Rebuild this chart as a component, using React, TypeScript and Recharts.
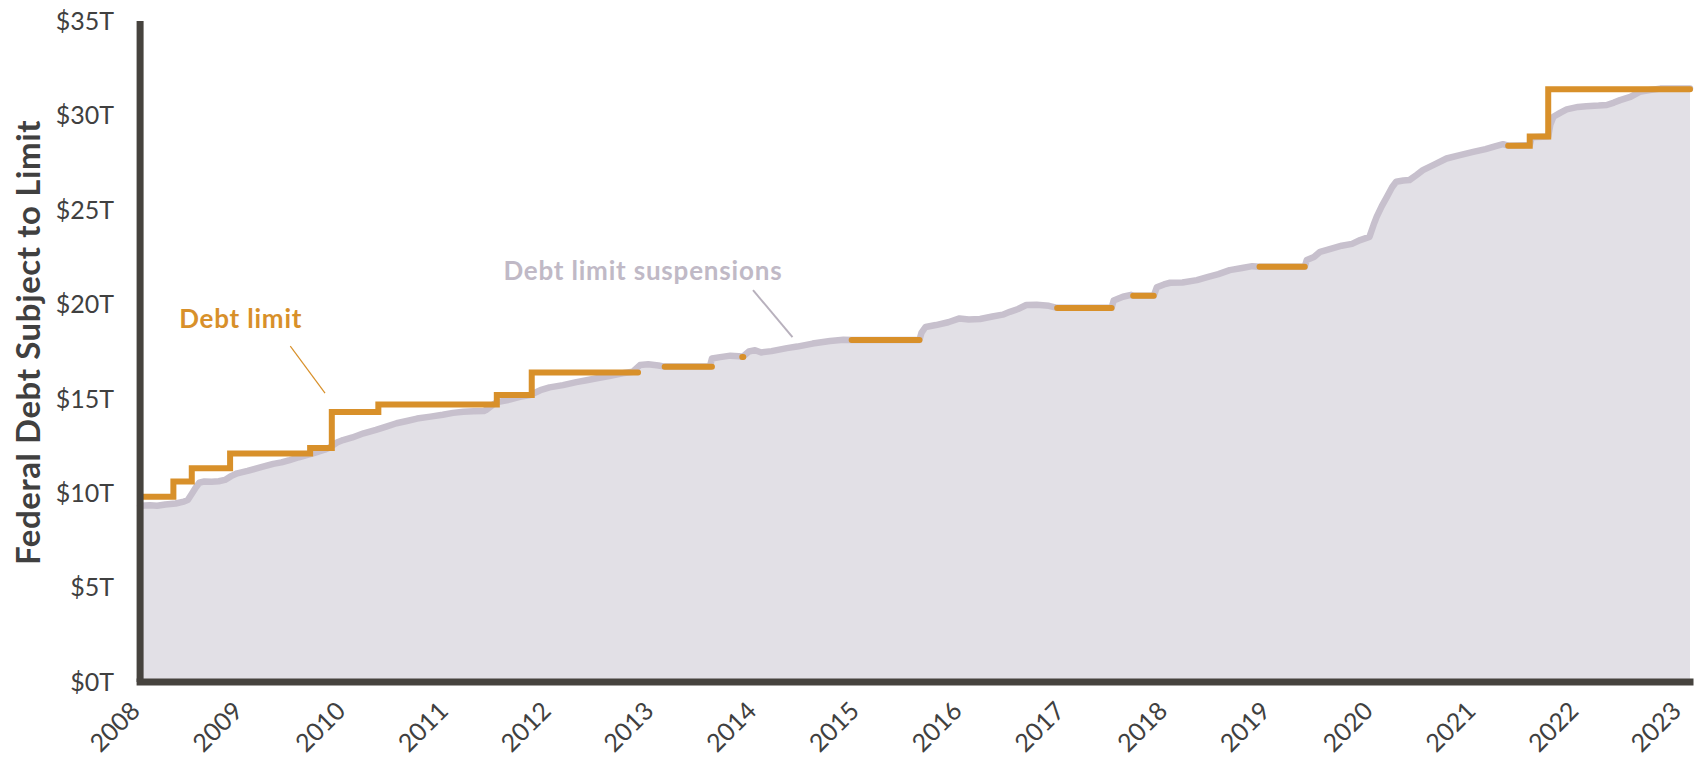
import { ComposedChart, Area, Line, XAxis, YAxis, ReferenceLine, ReferenceDot, Label } from 'recharts';

// debt subject to limit, trillions of dollars
const debtYears = [
  2008.254, 2008.35, 2008.42, 2008.5, 2008.6, 2008.68, 2008.72, 2008.75, 2008.79, 2008.83, 2008.88, 2008.95,
  2009.02, 2009.08, 2009.14, 2009.2, 2009.3, 2009.38, 2009.45, 2009.55, 2009.63, 2009.71, 2009.8, 2009.9, 2009.96,
  2010.05, 2010.1, 2010.17, 2010.23, 2010.32, 2010.43, 2010.55, 2010.65, 2010.75, 2010.85, 2010.95,
  2011.08, 2011.2, 2011.3, 2011.4, 2011.5, 2011.6, 2011.62, 2011.68, 2011.73, 2011.85, 2011.95,
  2012.05, 2012.15, 2012.24, 2012.37, 2012.5, 2012.6, 2012.7, 2012.82, 2012.95,
  2013.05, 2013.12, 2013.2, 2013.3, 2013.36, 2013.8, 2013.82, 2013.9,
  2014.0, 2014.08, 2014.12, 2014.18, 2014.24, 2014.3, 2014.4, 2014.55, 2014.65, 2014.8, 2014.97,
  2015.1, 2015.18, 2015.84, 2015.86, 2015.9, 2016.0, 2016.12, 2016.23, 2016.32, 2016.43, 2016.55, 2016.65,
  2016.72, 2016.8, 2016.88, 2016.98, 2017.1, 2017.18, 2017.71, 2017.73, 2017.82, 2017.9, 2017.92,
  2018.12, 2018.15, 2018.22, 2018.28, 2018.4, 2018.54, 2018.65, 2018.75, 2018.86, 2018.98,
  2019.08, 2019.15, 2019.59, 2019.61, 2019.68, 2019.74, 2019.85, 2019.95,
  2020.05, 2020.13, 2020.22, 2020.26, 2020.29, 2020.34, 2020.39, 2020.44, 2020.48, 2020.55, 2020.61, 2020.68,
  2020.74, 2020.85, 2020.97, 2021.1, 2021.23, 2021.35, 2021.45, 2021.52, 2021.57, 2021.78, 2021.8, 2021.96,
  2021.98, 2022.01, 2022.08, 2022.14, 2022.25, 2022.33, 2022.45, 2022.53, 2022.6, 2022.66, 2022.76, 2022.85,
  2022.95, 2023.05, 2023.34,
];
const debtValues = [
  9.33, 9.36, 9.33, 9.4, 9.45, 9.55, 9.65, 9.9, 10.25, 10.55, 10.62, 10.6,
  10.63, 10.7, 10.9, 11.05, 11.18, 11.3, 11.4, 11.55, 11.63, 11.75, 11.9, 12.05, 12.15,
  12.3, 12.42, 12.68, 12.81, 12.95, 13.17, 13.35, 13.52, 13.7, 13.82, 13.95,
  14.05, 14.15, 14.25, 14.31, 14.33, 14.35, 14.4, 14.65, 14.82, 14.95, 15.1,
  15.2, 15.45, 15.6, 15.72, 15.88, 15.98, 16.08, 16.2, 16.35,
  16.43, 16.78, 16.82, 16.76, 16.7, 16.7, 17.13, 17.2,
  17.28, 17.25, 17.22, 17.5, 17.57, 17.45, 17.52, 17.68, 17.76, 17.92, 18.06,
  18.12, 18.11, 18.11, 18.5, 18.8, 18.9, 19.05, 19.25, 19.2, 19.22, 19.35, 19.45,
  19.6, 19.75, 19.96, 19.98, 19.92, 19.81, 19.81, 20.2, 20.4, 20.5, 20.45,
  20.45, 20.9, 21.05, 21.14, 21.15, 21.28, 21.45, 21.6, 21.81, 21.92,
  22.02, 21.99, 21.99, 22.35, 22.5, 22.78, 22.95, 23.1,
  23.2, 23.4, 23.57, 24.2, 24.63, 25.2, 25.69, 26.2, 26.49, 26.55, 26.58, 26.85,
  27.1, 27.4, 27.72, 27.9, 28.07, 28.22, 28.38, 28.48, 28.4, 28.42, 28.85, 28.88,
  29.5, 29.93, 30.15, 30.32, 30.45, 30.49, 30.52, 30.55, 30.68, 30.81, 30.98, 31.25,
  31.35, 31.42, 31.42,
];

// statutory debt limit periods (gaps = suspensions)
const limitStart = [
  2008.254, 2008.578, 2008.757, 2009.13, 2009.909, 2010.12, 2010.573, 2011.726, 2012.066,
  2013.36, 2014.115, 2015.18, 2017.18, 2017.92, 2019.15, 2021.57, 2021.78, 2021.96,
];
const limitEnd = [
  2008.578, 2008.757, 2009.13, 2009.909, 2010.12, 2010.573, 2011.726, 2012.066, 2013.101,
  2013.82, 2014.125, 2015.84, 2017.71, 2018.12, 2019.59, 2021.78, 2021.96, 2023.34,
];
const limitValues = [
  9.815, 10.615, 11.315, 12.104, 12.394, 14.294, 14.694, 15.194, 16.394,
  16.699, 17.212, 18.113, 19.809, 20.456, 21.988, 28.401, 28.881, 31.381,
];

const yearTicks = [2008, 2009, 2010, 2011, 2012, 2013, 2014, 2015, 2016, 2017, 2018, 2019, 2020, 2021, 2022, 2023];
const valueTicks = [0, 5, 10, 15, 20, 25, 30, 35];

const debtData = debtYears.map((x, i) => ({ x, debt: debtValues[i] }));

const limitData: { x: number; limit: number | null }[] = [];
limitStart.forEach((s, i) => {
  limitData.push({ x: s, limit: limitValues[i] });
  limitData.push({ x: limitEnd[i], limit: limitValues[i] });
  const next = limitStart[i + 1];
  if (next !== undefined && next > limitEnd[i]) {
    limitData.push({ x: (limitEnd[i] + next) / 2, limit: null });
  }
});

const FONT = 'Lato, "Noto Sans", sans-serif';
const ORANGE = '#D8902A';
const AXIS = '#46433E';
const TEXT = '#404040';

function YearTick({ x, y, payload }: any) {
  const ty = y + 44;
  return (
    <text
      x={x}
      y={ty}
      transform={`rotate(-45 ${x} ${ty})`}
      textAnchor="middle"
      dominantBaseline="central"
      fontSize={25}
      fontFamily={FONT}
      fill={TEXT}
    >
      {payload.value}
    </text>
  );
}

function YTitle({ viewBox }: any) {
  const cx = viewBox.x + 27;
  const cy = viewBox.y + viewBox.height / 2 - 9;
  return (
    <text
      x={cx}
      y={cy}
      transform={`rotate(-90 ${cx} ${cy})`}
      textAnchor="middle"
      dominantBaseline="central"
      fontSize={33}
      fontWeight={700}
      letterSpacing={0.6}
      fontFamily={FONT}
      fill={TEXT}
    >
      Federal Debt Subject to Limit
    </text>
  );
}

const noteText = (text: string, color: string) => (props: any) => (
  <text
    x={props.cx}
    y={props.cy}
    fontSize={26}
    fontWeight={700}
    letterSpacing={0.8}
    fontFamily={FONT}
    fill={color}
  >
    {text}
  </text>
);

export default function App() {
  return (
    <div style={{ position: 'absolute', left: 0, top: 0, width: 1696, height: 759, background: '#fff' }}>
      <ComposedChart width={1696} height={759} margin={{ top: 21, right: 6, bottom: 7, left: 0 }}>
        <XAxis
          dataKey="x"
          type="number"
          domain={[2008, 2023.34]}
          ticks={yearTicks}
          axisLine={false}
          tickLine={false}
          tickSize={0}
          tickMargin={0}
          height={70}
          tick={<YearTick />}
          interval={0}
        />
        <YAxis
          type="number"
          domain={[0, 35]}
          ticks={valueTicks}
          axisLine={false}
          tickLine={false}
          tickSize={0}
          tickMargin={0}
          width={114}
          interval={0}
          tickFormatter={(v) => `$${v}T`}
          tick={{ fontSize: 25, fontFamily: FONT, fill: TEXT }}
        >
          <Label content={<YTitle />} />
        </YAxis>
        <Area
          data={debtData}
          dataKey="debt"
          type="linear"
          stroke="#C7C0CD"
          strokeWidth={6.5}
          strokeLinejoin="round"
          strokeLinecap="round"
          fill="#E2E0E6"
          fillOpacity={1}
          baseValue={0}
          dot={false}
          activeDot={false}
          isAnimationActive={false}
        />
        <Line
          data={limitData}
          dataKey="limit"
          type="linear"
          stroke={ORANGE}
          strokeWidth={6}
          strokeLinecap="round"
          strokeLinejoin="miter"
          connectNulls={false}
          dot={false}
          activeDot={false}
          isAnimationActive={false}
        />
        <ReferenceLine
          segment={[{ x: 2008.254, y: 0 }, { x: 2008.254, y: 35 }]}
          stroke={AXIS}
          strokeWidth={7}
        />
        <ReferenceLine
          segment={[{ x: 2008.254, y: 0 }, { x: 2023.34, y: 0 }]}
          stroke={AXIS}
          strokeWidth={7}
          strokeLinecap="square"
        />
        <ReferenceLine
          segment={[{ x: 2009.716, y: 17.79 }, { x: 2010.054, y: 15.3 }]}
          stroke={ORANGE}
          strokeWidth={1.2}
        />
        <ReferenceLine
          segment={[{ x: 2014.22, y: 20.75 }, { x: 2014.604, y: 18.26 }]}
          stroke="#B8B1BD"
          strokeWidth={2}
        />
        <ReferenceDot x={2008.634} y={18.74} r={0} shape={noteText('Debt limit', ORANGE)} />
        <ReferenceDot x={2011.79} y={21.28} r={0} shape={noteText('Debt limit suspensions', '#C0B9C6')} />
      </ComposedChart>
    </div>
  );
}
